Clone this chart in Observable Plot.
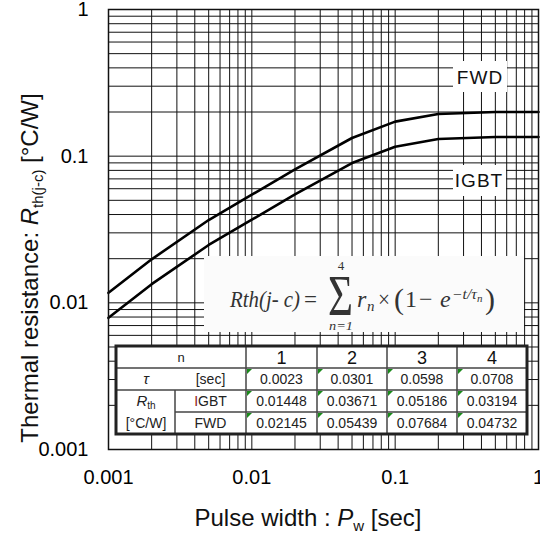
<!DOCTYPE html>
<html><head><meta charset="utf-8">
<script src="https://cdn.jsdelivr.net/npm/d3@7"></script>
<script src="https://cdn.jsdelivr.net/npm/@observablehq/plot@0.6"></script>
<style>
body{margin:0;background:#fff;}
#chart{position:relative;width:540px;height:533px;overflow:hidden;}
</style></head><body><div id="chart"></div>
<script>
// ---- data ----
const pulseWidth = [0.001, 0.002, 0.005, 0.01, 0.02, 0.05, 0.1, 0.2, 0.5, 1];
const rthFWD  = [0.0117, 0.0198, 0.0367, 0.0546, 0.0814, 0.133, 0.172, 0.194, 0.200, 0.200];
const rthIGBT = [0.0079, 0.0134, 0.0248, 0.0369, 0.0549, 0.0898, 0.116, 0.131, 0.135, 0.135];
const seriesNames = ["FWD", "IGBT"];
const xTicks = [0.001, 0.01, 0.1, 1];
const xTickLabels = ["0.001", "0.01", "0.1", "1"];
const yTicks = [0.001, 0.01, 0.1, 1];
const yTickLabels = ["0.001", "0.01", "0.1", "1"];
const gridMultipliers = [1, 2, 3, 4, 5, 6, 7, 8, 9];
const tableN = ["1", "2", "3", "4"];
const tableTau = ["0.0023", "0.0301", "0.0598", "0.0708"];
const tableIGBT = ["0.01448", "0.03671", "0.05186", "0.03194"];
const tableFWD = ["0.02145", "0.05439", "0.07684", "0.04732"];

// grid positions (1..9 in each decade)
const grid = [];
for (const d of xTicks.slice(0, 3)) for (const m of gridMultipliers) grid.push(+(m * d).toPrecision(3));
grid.push(1);

const rows = pulseWidth.flatMap((t, i) => [
  {t, r: rthFWD[i], s: seriesNames[0]},
  {t, r: rthIGBT[i], s: seriesNames[1]}
]);

const plot = Plot.plot({
  width: 540, height: 533,
  marginLeft: 108, marginRight: 2, marginTop: 9, marginBottom: 84,
  style: {fontFamily: "'Liberation Sans', Arial, sans-serif", fontSize: "20px", color: "#000", background: "#fff", overflow: "visible"},
  x: {type: "log", domain: [0.001, 1]},
  y: {type: "log", domain: [0.001, 1]},
  marks: [
    Plot.ruleX(grid, {stroke: "#111", strokeWidth: 1}),
    Plot.ruleY(grid, {stroke: "#111", strokeWidth: 1}),
    Plot.line(rows, {x: "t", y: "r", z: "s", stroke: "#000", strokeWidth: 2.6}),
    Plot.frame({stroke: "#111", strokeWidth: 1.5}),
    Plot.axisX({ticks: xTicks, tickFormat: d => xTickLabels[xTicks.indexOf(d)], tickSize: 0, tickPadding: 20, label: null, fontSize: 20}),
    Plot.axisY({ticks: yTicks, tickFormat: d => yTickLabels[yTicks.indexOf(d)], tickSize: 0, tickPadding: 20, label: null, fontSize: 20})
  ]
});
document.getElementById("chart").appendChild(plot);

const svg = d3.select(plot);
const SANS = "'Liberation Sans', Arial, sans-serif";
const SERIF = "'Liberation Serif', 'Times New Roman', serif";
const ann = svg.append("g");

// series labels with white boxes
function labelBox(x, y, w, h, tx, ty, s) {
  ann.append("rect").attr("x", x).attr("y", y).attr("width", w).attr("height", h).attr("fill", "#fff");
  ann.append("text").attr("x", tx).attr("y", ty).attr("text-anchor", "middle")
    .attr("font-family", SANS).attr("font-size", 19).attr("letter-spacing", 1).attr("fill", "#111").text(s);
}
labelBox(453, 61, 54, 31, 480, 83.5, seriesNames[0]);
labelBox(453, 165, 53, 31, 479, 187, seriesNames[1]);

// formula box
ann.append("rect").attr("x", 204).attr("y", 256).attr("width", 320).attr("height", 76).attr("fill", "#fbfbfb");
const fcol = "#333";
function ft(x, y, s, size, opts = {}) {
  const t = ann.append("text").attr("x", x).attr("y", y).attr("font-family", SERIF)
    .attr("font-size", size).attr("fill", fcol).attr("font-style", opts.italic === false ? "normal" : "italic")
    .attr("text-anchor", opts.anchor || "start").text(s);
  if (opts.len) t.attr("textLength", opts.len).attr("lengthAdjust", "spacingAndGlyphs");
  return t;
}
ft(230, 307, "Rth(j- c)", 24, {len: 70});
ft(304, 307, "=", 24, {italic: false, len: 13});
ft(328, 315, "Σ", 56, {italic: false, len: 25});
ft(341, 270, "4", 13, {italic: false, anchor: "middle"});
ft(329, 330, "n=1", 13, {len: 24});
ft(357, 307, "r", 24);
ft(367, 311, "n", 15);
ft(378, 307, "×", 24, {italic: false, len: 12});
ft(394, 309, "(", 30, {italic: false});
ft(405, 307, "1", 24, {italic: false});
ft(419, 307, "−", 24, {italic: false});
ft(440, 307, "e", 24);
ft(452, 299, "−t/τ", 14, {len: 25});
ft(477, 302, "n", 11);
ft(485, 309, ")", 30, {italic: false});

// parameter table
const colX = [116, 175, 246, 317, 387, 457, 527];
const rowY = [346, 368, 390, 412, 434];
const tb = ann.append("g");
tb.append("rect").attr("x", colX[0]).attr("y", rowY[0]).attr("width", colX[6] - colX[0]).attr("height", rowY[4] - rowY[0]).attr("fill", "#fff");
function ln(x1, y1, x2, y2, w, c) {
  tb.append("line").attr("x1", x1).attr("y1", y1).attr("x2", x2).attr("y2", y2).attr("stroke", c).attr("stroke-width", w);
}
ln(colX[0], rowY[1], colX[6], rowY[1], 1.5, "#444");
ln(colX[0], rowY[2], colX[6], rowY[2], 1.5, "#444");
ln(colX[1], rowY[3], colX[6], rowY[3], 1.5, "#444");
ln(colX[1], rowY[2], colX[1], rowY[4], 1.5, "#444");
for (let c = 2; c <= 5; c++) ln(colX[c], rowY[0], colX[c], rowY[4], 1.5, "#444");
tb.append("rect").attr("x", colX[0]).attr("y", rowY[0]).attr("width", colX[6] - colX[0]).attr("height", rowY[4] - rowY[0])
  .attr("fill", "none").attr("stroke", "#222").attr("stroke-width", 3);
function tt(x, y, s, size, opts = {}) {
  const t = tb.append("text").attr("x", x).attr("y", y).attr("text-anchor", opts.anchor || "middle")
    .attr("font-family", SANS).attr("font-size", size).attr("fill", opts.fill || "#222")
    .attr("font-style", opts.italic ? "italic" : "normal");
  if (s !== null) t.text(s);
  return t;
}
const colC = i => (colX[i] + colX[i + 1]) / 2;
tt(181, 362, "n", 13);
tableN.forEach((s, i) => tt(colC(i + 2), 364, s, 18, {fill: "#111"}));
tt(146, 384, "τ", 15, {italic: true});
tt(210.5, 384, "[sec]", 14);
const rth = tt(146, 406, null, 15);
rth.append("tspan").attr("font-style", "italic").text("R");
rth.append("tspan").attr("font-size", 10).attr("dy", 3).text("th");
tt(146, 428, "[°C/W]", 14);
const ig = tt(210.5, 406, null, 14);
ig.append("tspan").attr("fill", "#8a1a1a").text("I");
ig.append("tspan").text("GBT");
tt(210.5, 428, seriesNames[0], 14);
const valRows = [tableTau, tableIGBT, tableFWD];
valRows.forEach((arr, r) => arr.forEach((s, i) => {
  const cx = colC(i + 2), y0 = rowY[r + 1];
  tt(cx, y0 + 16, s, 14);
  tb.append("path").attr("d", `M${colX[i + 2] + 1},${y0 + 1}h5l-5,5z`).attr("fill", "#1a8a1a");
}));

// axis titles
const xt = ann.append("text").attr("x", 308).attr("y", 526).attr("text-anchor", "middle")
  .attr("font-family", SANS).attr("font-size", 24).attr("fill", "#111");
xt.append("tspan").text("Pulse width : ");
xt.append("tspan").attr("font-style", "italic").text("P");
xt.append("tspan").attr("font-size", 15).attr("dy", 5).text("w");
xt.append("tspan").attr("dy", -5).text(" [sec]");

const yt = ann.append("text").attr("transform", "translate(38,268) rotate(-90)").attr("text-anchor", "middle")
  .attr("font-family", SANS).attr("font-size", 24).attr("fill", "#111");
yt.append("tspan").text("Thermal resistance: ");
yt.append("tspan").attr("font-style", "italic").text("R");
yt.append("tspan").attr("font-size", 15).attr("dy", 5).text("th(j-c)");
yt.append("tspan").attr("dy", -5).text(" [°C/W]");
</script>
</body></html>
